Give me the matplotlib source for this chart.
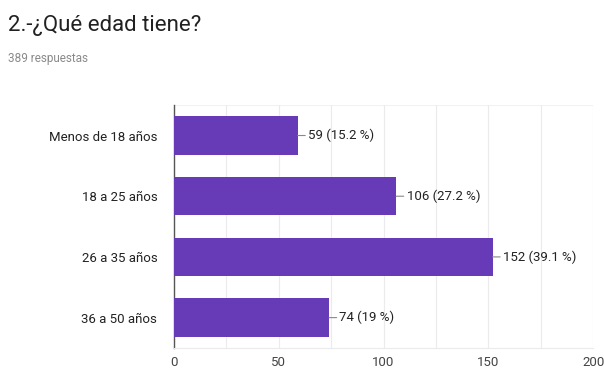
import matplotlib
matplotlib.use("Agg")
import matplotlib.pyplot as plt

categories = ["Menos de 18 años", "18 a 25 años", "26 a 35 años", "36 a 50 años"]
counts = [59, 106, 152, 74]
percents = ["15.2", "27.2", "39.1", "19"]
xticks = [0, 50, 100, 150, 200]

plt.rcParams['font.family'] = ["Roboto", "DejaVu Sans"]

fig = plt.figure(figsize=(6.04, 3.69), dpi=100)
ax = fig.add_axes([0.288, 0.057, 0.694, 0.658])

purple = "#673ab7"
y = list(range(len(categories)))
ax.barh(y, counts, height=0.63, color=purple, zorder=3)
ax.set_ylim(len(categories) - 0.5, -0.5)
ax.set_xlim(0, 200)

for i, (c, p) in enumerate(zip(counts, percents)):
    ax.annotate(f"{c} ({p} %)", xy=(c, i), xytext=(7.5, 0), textcoords="offset points",
                va="center", ha="left", fontsize=9.5, color="#222222",
                arrowprops=dict(arrowstyle="-", color="#888888", lw=0.8,
                                shrinkA=0, shrinkB=0))

ax.set_xticks(xticks)
ax.set_xticks([25, 75, 125, 175], minor=True)
ax.grid(axis="x", which="both", color="#ebebeb", lw=0.8, zorder=0)
ax.set_yticks(y)
ax.set_yticklabels(categories, fontsize=9.5, color="#222222")
ax.tick_params(axis="both", which="both", length=0)
ax.tick_params(axis="y", pad=12)
ax.tick_params(axis="x", pad=6, labelsize=9.5, labelcolor="#444444")
for s in ["top", "right"]:
    ax.spines[s].set_visible(False)
ax.spines["bottom"].set_color("#ebebeb")
ax.spines["left"].set_color("#555555")
ax.spines["left"].set_linewidth(1.0)
ax.axhline(-0.5, color="#f2f2f2", lw=0.8, zorder=0)

fig.text(0.013, 0.93, "2.-¿Qué edad tiene?", fontsize=16, color="#212121", va="center", ha="left")
fig.text(0.013, 0.842, "389 respuestas", fontsize=8.5, color="#8a8a8a", va="center", ha="left")

fig.savefig("out.png", dpi=100)
